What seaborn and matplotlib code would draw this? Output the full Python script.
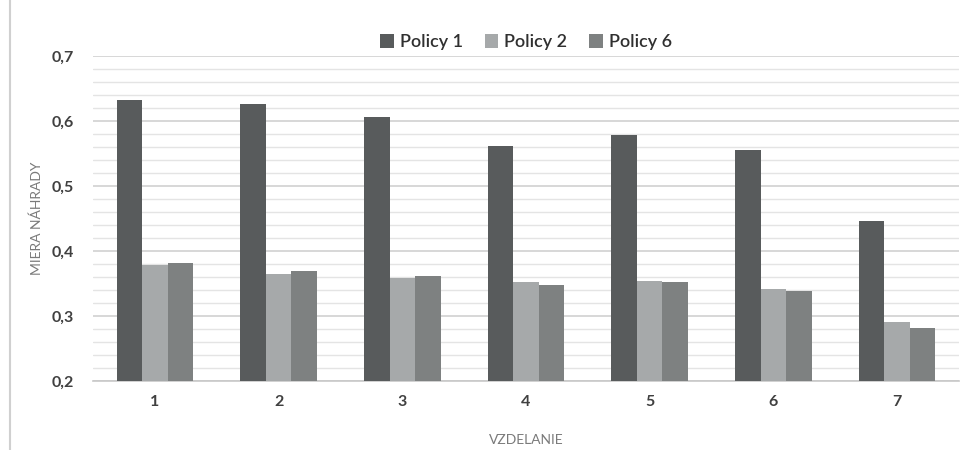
# Grouped bar chart: miera nahrady by vzdelanie for three policies
import pandas as pd
import seaborn as sns
import matplotlib.pyplot as plt
from matplotlib.lines import Line2D
from matplotlib.ticker import MultipleLocator, FuncFormatter

education = ['1', '2', '3', '4', '5', '6', '7']
policy_1 = [0.632, 0.626, 0.606, 0.561, 0.578, 0.555, 0.446]
policy_2 = [0.378, 0.365, 0.358, 0.352, 0.354, 0.342, 0.291]
policy_6 = [0.382, 0.369, 0.362, 0.348, 0.352, 0.339, 0.281]
policies = ['Policy 1', 'Policy 2', 'Policy 6']

df = pd.DataFrame({
    'vzdelanie': education * 3,
    'policy': [p for p in policies for _ in education],
    'value': policy_1 + policy_2 + policy_6,
})

sns.set_style('white')
plt.rcParams['font.family'] = ['Lato', 'DejaVu Sans']

fig = plt.figure(figsize=(9.8, 4.5), dpi=100)
ax = fig.add_axes([93 / 980, 1 - 381 / 450, (959 - 93) / 980, (381 - 56) / 450])

palette = {'Policy 1': '#585b5c', 'Policy 2': '#a6a9aa', 'Policy 6': '#7e8181'}
sns.barplot(data=df, x='vzdelanie', y='value', hue='policy', palette=palette,
            width=0.62, linewidth=0, saturation=1, ax=ax, zorder=3)

ax.set_ylim(0.2, 0.7)
ax.set_xlim(-0.5, 6.5)
ax.yaxis.set_major_locator(MultipleLocator(0.1))
ax.yaxis.set_minor_locator(MultipleLocator(0.02))
ax.yaxis.set_major_formatter(FuncFormatter(lambda v, _: f'{v:.1f}'.replace('.', ',')))
ax.grid(which='major', axis='y', color='#d4d4d4', linewidth=1.3, zorder=0)
ax.grid(which='minor', axis='y', color='#e4e4e4', linewidth=1.0, zorder=0)
ax.set_axisbelow(True)

for side in ['top', 'right', 'left']:
    ax.spines[side].set_visible(False)
ax.spines['bottom'].set_color('#c8c8c8')
ax.spines['bottom'].set_linewidth(1.2)
ax.tick_params(axis='both', which='both', length=0, labelsize=11.5, colors='#404040', pad=10)
ax.tick_params(axis='y', pad=14)
for lbl in ax.get_xticklabels() + ax.get_yticklabels():
    lbl.set_fontweight('bold')

ax.set_xlabel('VZDELANIE', fontsize=10, color='#7a7a7a', labelpad=18)
ax.set_ylabel('MIERA NÁHRADY', fontsize=10, color='#7a7a7a', labelpad=6)

handles, labels = ax.get_legend_handles_labels()
ax.legend(handles, labels, loc='lower center', bbox_to_anchor=(0.5, 0.995), ncol=3,
          frameon=False, handlelength=0.75, handleheight=0.75,
          handletextpad=0.35, columnspacing=1.2, borderaxespad=0.0,
          labelcolor='#303030', prop={'weight': 'semibold', 'size': 13})

fig.add_artist(Line2D([10 / 980, 10 / 980], [0, 1], color='#d0d0d0', linewidth=1.5))

fig.savefig('out.png', dpi=100, facecolor='white')
